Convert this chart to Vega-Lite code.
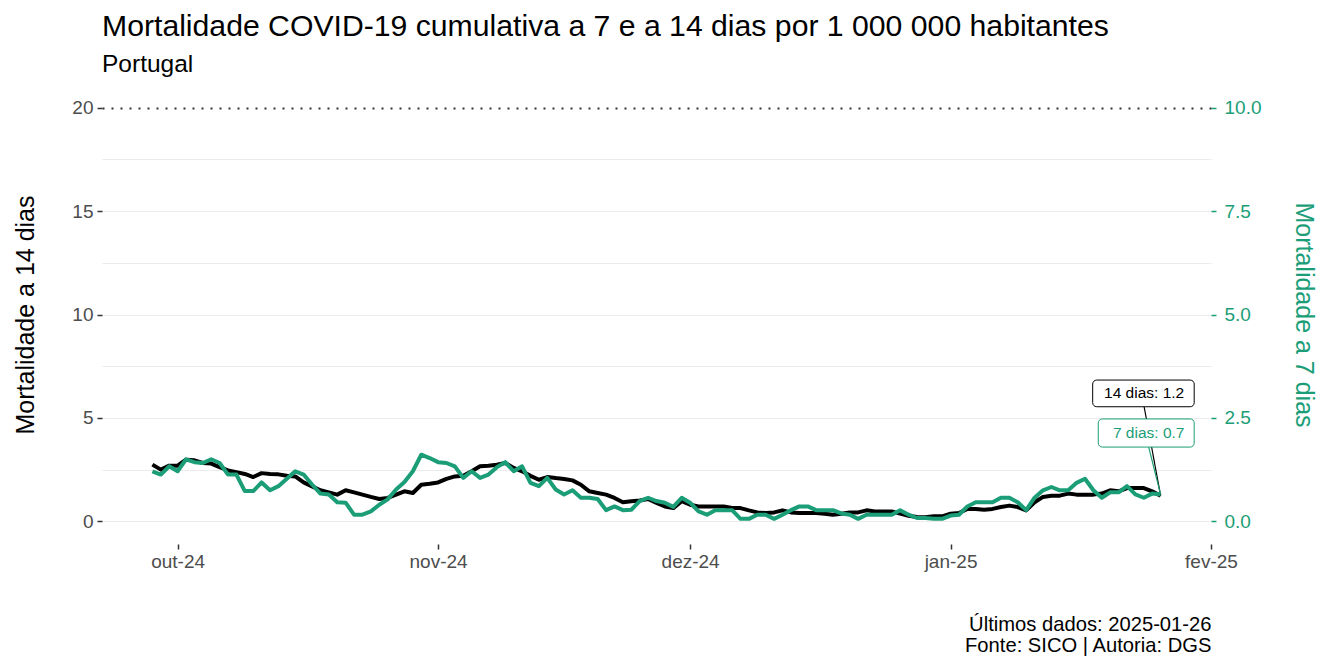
{
"$schema": "https://vega.github.io/schema/vega-lite/v6.json",
"width": 1109, "height": 455,
"autosize": {"type": "none"},
"padding": {"left": 102, "top": 87, "right": 120, "bottom": 118},
"background": "white",
"config": {"font": "Liberation Sans", "view": {"stroke": null}},
"title": {"text": "Mortalidade COVID-19 cumulativa a 7 e a 14 dias por 1 000 000 habitantes", "subtitle": "Portugal", "anchor": "start", "frame": "group", "fontSize": 30.2, "subtitleFontSize": 24.5, "fontWeight": "normal", "color": "black", "subtitleColor": "black", "font": "Liberation Sans", "subtitleFont": "Liberation Sans", "offset": 11, "subtitlePadding": 10},
"data": {"values": [
{"d":"2024-09-28","m14":2.74,"m7":1.21},{"d":"2024-09-29","m14":2.5,"m7":1.13},{"d":"2024-09-30","m14":2.69,"m7":1.33},
{"d":"2024-10-01","m14":2.69,"m7":1.21},{"d":"2024-10-02","m14":2.98,"m7":1.5},{"d":"2024-10-03","m14":2.95,"m7":1.43},{"d":"2024-10-04","m14":2.82,"m7":1.41},{"d":"2024-10-05","m14":2.79,"m7":1.5},{"d":"2024-10-06","m14":2.62,"m7":1.41},{"d":"2024-10-07","m14":2.46,"m7":1.13},{"d":"2024-10-08","m14":2.38,"m7":1.13},{"d":"2024-10-09","m14":2.29,"m7":0.73},{"d":"2024-10-10","m14":2.14,"m7":0.73},{"d":"2024-10-11","m14":2.33,"m7":0.94},{"d":"2024-10-12","m14":2.29,"m7":0.75},{"d":"2024-10-13","m14":2.27,"m7":0.85},{"d":"2024-10-14","m14":2.2,"m7":1.03},{"d":"2024-10-15","m14":2.17,"m7":1.21},{"d":"2024-10-16","m14":1.88,"m7":1.13},{"d":"2024-10-17","m14":1.69,"m7":0.89},{"d":"2024-10-18","m14":1.5,"m7":0.67},{"d":"2024-10-19","m14":1.4,"m7":0.65},{"d":"2024-10-20","m14":1.29,"m7":0.46},{"d":"2024-10-21","m14":1.5,"m7":0.45},{"d":"2024-10-22","m14":1.4,"m7":0.16},{"d":"2024-10-23","m14":1.29,"m7":0.16},{"d":"2024-10-24","m14":1.18,"m7":0.24},{"d":"2024-10-25","m14":1.08,"m7":0.4},{"d":"2024-10-26","m14":1.13,"m7":0.53},{"d":"2024-10-27","m14":1.29,"m7":0.77},{"d":"2024-10-28","m14":1.45,"m7":0.95},{"d":"2024-10-29","m14":1.37,"m7":1.21},{"d":"2024-10-30","m14":1.77,"m7":1.61},{"d":"2024-10-31","m14":1.82,"m7":1.53},
{"d":"2024-11-01","m14":1.88,"m7":1.43},{"d":"2024-11-02","m14":2.05,"m7":1.41},{"d":"2024-11-03","m14":2.17,"m7":1.33},{"d":"2024-11-04","m14":2.2,"m7":1.05},{"d":"2024-11-05","m14":2.42,"m7":1.21},{"d":"2024-11-06","m14":2.66,"m7":1.05},{"d":"2024-11-07","m14":2.69,"m7":1.13},{"d":"2024-11-08","m14":2.74,"m7":1.31},{"d":"2024-11-09","m14":2.82,"m7":1.43},{"d":"2024-11-10","m14":2.58,"m7":1.21},{"d":"2024-11-11","m14":2.42,"m7":1.33},{"d":"2024-11-12","m14":2.2,"m7":0.93},{"d":"2024-11-13","m14":2.01,"m7":0.85},{"d":"2024-11-14","m14":2.14,"m7":1.05},{"d":"2024-11-15","m14":2.09,"m7":0.77},{"d":"2024-11-16","m14":2.05,"m7":0.65},{"d":"2024-11-17","m14":1.98,"m7":0.75},{"d":"2024-11-18","m14":1.77,"m7":0.57},{"d":"2024-11-19","m14":1.45,"m7":0.57},{"d":"2024-11-20","m14":1.37,"m7":0.54},{"d":"2024-11-21","m14":1.29,"m7":0.27},{"d":"2024-11-22","m14":1.13,"m7":0.36},{"d":"2024-11-23","m14":0.92,"m7":0.27},{"d":"2024-11-24","m14":0.97,"m7":0.28},{"d":"2024-11-25","m14":1.01,"m7":0.49},{"d":"2024-11-26","m14":1.08,"m7":0.57},{"d":"2024-11-27","m14":0.89,"m7":0.49},{"d":"2024-11-28","m14":0.72,"m7":0.45},{"d":"2024-11-29","m14":0.64,"m7":0.35},{"d":"2024-11-30","m14":0.97,"m7":0.57},
{"d":"2024-12-01","m14":0.8,"m7":0.45},{"d":"2024-12-02","m14":0.72,"m7":0.24},{"d":"2024-12-03","m14":0.72,"m7":0.16},{"d":"2024-12-04","m14":0.72,"m7":0.27},{"d":"2024-12-05","m14":0.72,"m7":0.27},{"d":"2024-12-06","m14":0.64,"m7":0.27},{"d":"2024-12-07","m14":0.64,"m7":0.06},{"d":"2024-12-08","m14":0.53,"m7":0.06},{"d":"2024-12-09","m14":0.43,"m7":0.16},{"d":"2024-12-10","m14":0.4,"m7":0.16},{"d":"2024-12-11","m14":0.43,"m7":0.06},{"d":"2024-12-12","m14":0.53,"m7":0.16},{"d":"2024-12-13","m14":0.43,"m7":0.27},{"d":"2024-12-14","m14":0.4,"m7":0.36},{"d":"2024-12-15","m14":0.4,"m7":0.36},{"d":"2024-12-16","m14":0.4,"m7":0.27},{"d":"2024-12-17","m14":0.37,"m7":0.27},{"d":"2024-12-18","m14":0.32,"m7":0.27},{"d":"2024-12-19","m14":0.37,"m7":0.19},{"d":"2024-12-20","m14":0.43,"m7":0.16},{"d":"2024-12-21","m14":0.43,"m7":0.06},{"d":"2024-12-22","m14":0.53,"m7":0.16},{"d":"2024-12-23","m14":0.48,"m7":0.16},{"d":"2024-12-24","m14":0.48,"m7":0.16},{"d":"2024-12-25","m14":0.48,"m7":0.16},{"d":"2024-12-26","m14":0.37,"m7":0.27},{"d":"2024-12-27","m14":0.27,"m7":0.16},{"d":"2024-12-28","m14":0.21,"m7":0.08},{"d":"2024-12-29","m14":0.2,"m7":0.08},{"d":"2024-12-30","m14":0.24,"m7":0.06},{"d":"2024-12-31","m14":0.24,"m7":0.06},
{"d":"2025-01-01","m14":0.37,"m7":0.14},{"d":"2025-01-02","m14":0.4,"m7":0.16},{"d":"2025-01-03","m14":0.6,"m7":0.36},{"d":"2025-01-04","m14":0.6,"m7":0.46},{"d":"2025-01-05","m14":0.56,"m7":0.46},{"d":"2025-01-06","m14":0.6,"m7":0.46},{"d":"2025-01-07","m14":0.69,"m7":0.57},{"d":"2025-01-08","m14":0.76,"m7":0.57},{"d":"2025-01-09","m14":0.69,"m7":0.46},{"d":"2025-01-10","m14":0.53,"m7":0.27},{"d":"2025-01-11","m14":0.92,"m7":0.57},{"d":"2025-01-12","m14":1.18,"m7":0.75},{"d":"2025-01-13","m14":1.24,"m7":0.83},{"d":"2025-01-14","m14":1.24,"m7":0.75},{"d":"2025-01-15","m14":1.34,"m7":0.75},{"d":"2025-01-16","m14":1.29,"m7":0.93},{"d":"2025-01-17","m14":1.29,"m7":1.03},{"d":"2025-01-18","m14":1.29,"m7":0.75},{"d":"2025-01-19","m14":1.34,"m7":0.57},{"d":"2025-01-20","m14":1.5,"m7":0.7},{"d":"2025-01-21","m14":1.45,"m7":0.7},{"d":"2025-01-22","m14":1.61,"m7":0.85},{"d":"2025-01-23","m14":1.61,"m7":0.65},{"d":"2025-01-24","m14":1.61,"m7":0.57},{"d":"2025-01-25","m14":1.45,"m7":0.67},{"d":"2025-01-26","m14":1.24,"m7":0.65}
]},
"layer": [
 {"layer": [
  {"mark": {"type": "line", "color": "black", "strokeWidth": 4, "strokeJoin": "round"},
   "encoding": {
    "x": {"field": "d", "type": "temporal",
      "scale": {"type": "utc", "domain": [{"year": 2024, "month": 9, "date": 22, "utc": true}, {"year": 2025, "month": 2, "date": 1, "utc": true}]},
      "axis": {"title": ["Últimos dados: 2025-01-26", "Fonte: SICO | Autoria: DGS"], "titleAnchor": "end", "titleAlign": "right", "titleFontSize": 20.2, "titleFontWeight": "normal", "titleColor": "black", "titlePadding": 43, "titleLineHeight": 21.5, "titleFont": "Liberation Sans",
        "values": [{"year": 2024, "month": 10, "date": 1, "utc": true}, {"year": 2024, "month": 11, "date": 1, "utc": true}, {"year": 2024, "month": 12, "date": 1, "utc": true}, {"year": 2025, "month": 1, "date": 1, "utc": true}, {"year": 2025, "month": 2, "date": 1, "utc": true}],
        "labelExpr": "['jan','fev','mar','abr','mai','jun','jul','ago','set','out','nov','dez'][utcmonth(datum.value)] + '-' + utcFormat(datum.value, '%y')",
        "grid": false, "domain": false, "ticks": true, "tickSize": 5, "tickColor": "#333333", "tickWidth": 1.5, "offset": 2,
        "labelFontSize": 19, "labelColor": "#4D4D4D", "labelPadding": 3, "labelFont": "Liberation Sans", "labelFlush": false, "labelOverlap": false}},
    "y": {"field": "m14", "type": "quantitative",
      "scale": {"domain": [-1, 21], "nice": false, "zero": false},
      "axis": {"title": "Mortalidade a 14 dias", "titleFontSize": 25, "titleFontWeight": "normal", "titleColor": "black", "titlePadding": 33, "titleFont": "Liberation Sans",
        "values": [0, 2.5, 5, 7.5, 10, 12.5, 15, 17.5, 20],
        "labelExpr": "datum.value % 5 === 0 ? format(datum.value, 'd') : ''",
        "domain": false, "tickSize": 5, "tickColor": "#333333", "tickWidth": 1.5,
        "tickOpacity": {"condition": {"test": "datum.value % 5 !== 0", "value": 0}, "value": 1},
        "labelFontSize": 19, "labelColor": "#4D4D4D", "labelPadding": 4, "labelFont": "Liberation Sans",
        "grid": true,
        "gridColor": {"condition": {"test": "datum.value === 20", "value": "#333333"}, "value": "#EBEBEB"},
        "gridDash": {"condition": {"test": "datum.value === 20", "value": [2, 7]}, "value": []},
        "gridWidth": {"condition": {"test": "datum.value === 20", "value": 2}, "value": 1.2}}}
   }},
  {"data": {"values": [{}]},
   "mark": {"type": "rule", "color": "black", "strokeWidth": 1.2},
   "encoding": {
    "x": {"datum": {"year": 2025, "month": 1, "date": 24, "hours": 1, "utc": true}},
    "x2": {"datum": {"year": 2025, "month": 1, "date": 26, "utc": true}},
    "y": {"datum": 5.54}, "y2": {"datum": 1.24}}},
  {"data": {"values": [{}]},
   "mark": {"type": "rule", "color": "#1B9E77", "strokeWidth": 1.2},
   "encoding": {
    "x": {"datum": {"year": 2025, "month": 1, "date": 24, "hours": 14, "utc": true}},
    "x2": {"datum": {"year": 2025, "month": 1, "date": 26, "utc": true}},
    "y": {"datum": 3.59}, "y2": {"datum": 1.3}}},
  {"data": {"values": [{}]},
   "mark": {"type": "rect", "fill": "white", "stroke": "black", "strokeWidth": 1, "cornerRadius": 4},
   "encoding": {
    "x": {"datum": {"year": 2025, "month": 1, "date": 17, "hours": 22, "utc": true}},
    "x2": {"datum": {"year": 2025, "month": 1, "date": 30, "utc": true}},
    "y": {"datum": 5.54}, "y2": {"datum": 6.83}}},
  {"data": {"values": [{}]},
   "mark": {"type": "text", "text": "14 dias: 1.2", "fontSize": 15.5, "color": "black", "align": "center", "baseline": "middle", "font": "Liberation Sans"},
   "encoding": {
    "x": {"datum": {"year": 2025, "month": 1, "date": 24, "hours": 1, "utc": true}},
    "y": {"datum": 6.2}}},
  {"data": {"values": [{}]},
   "mark": {"type": "rect", "fill": "white", "stroke": "#1B9E77", "strokeWidth": 1, "cornerRadius": 4},
   "encoding": {
    "x": {"datum": {"year": 2025, "month": 1, "date": 18, "hours": 14, "utc": true}},
    "x2": {"datum": {"year": 2025, "month": 1, "date": 30, "utc": true}},
    "y": {"datum": 3.59}, "y2": {"datum": 4.95}}},
  {"data": {"values": [{}]},
   "mark": {"type": "text", "text": "7 dias: 0.7", "fontSize": 15.5, "color": "#1B9E77", "align": "center", "baseline": "middle", "font": "Liberation Sans"},
   "encoding": {
    "x": {"datum": {"year": 2025, "month": 1, "date": 24, "hours": 14, "utc": true}},
    "y": {"datum": 4.27}}}
 ]},
 {"mark": {"type": "line", "color": "#1B9E77", "strokeWidth": 4, "strokeJoin": "round"},
  "encoding": {
   "x": {"field": "d", "type": "temporal"},
   "y": {"field": "m7", "type": "quantitative",
     "scale": {"domain": [-0.5, 10.5], "nice": false, "zero": false},
     "axis": {"orient": "right", "title": "Mortalidade a 7 dias", "titleFontSize": 25, "titleFontWeight": "normal", "titleColor": "#1B9E77", "titlePadding": 30, "titleFont": "Liberation Sans",
       "values": [0, 2.5, 5, 7.5, 10], "format": ".1f",
       "grid": false, "domain": false, "tickSize": 5, "tickColor": "#1B9E77", "tickWidth": 1.5,
       "labelFontSize": 19, "labelColor": "#1B9E77", "labelPadding": 8, "labelFont": "Liberation Sans"}}
  }}
],
"resolve": {"scale": {"y": "independent"}, "axis": {"y": "independent"}}
}
